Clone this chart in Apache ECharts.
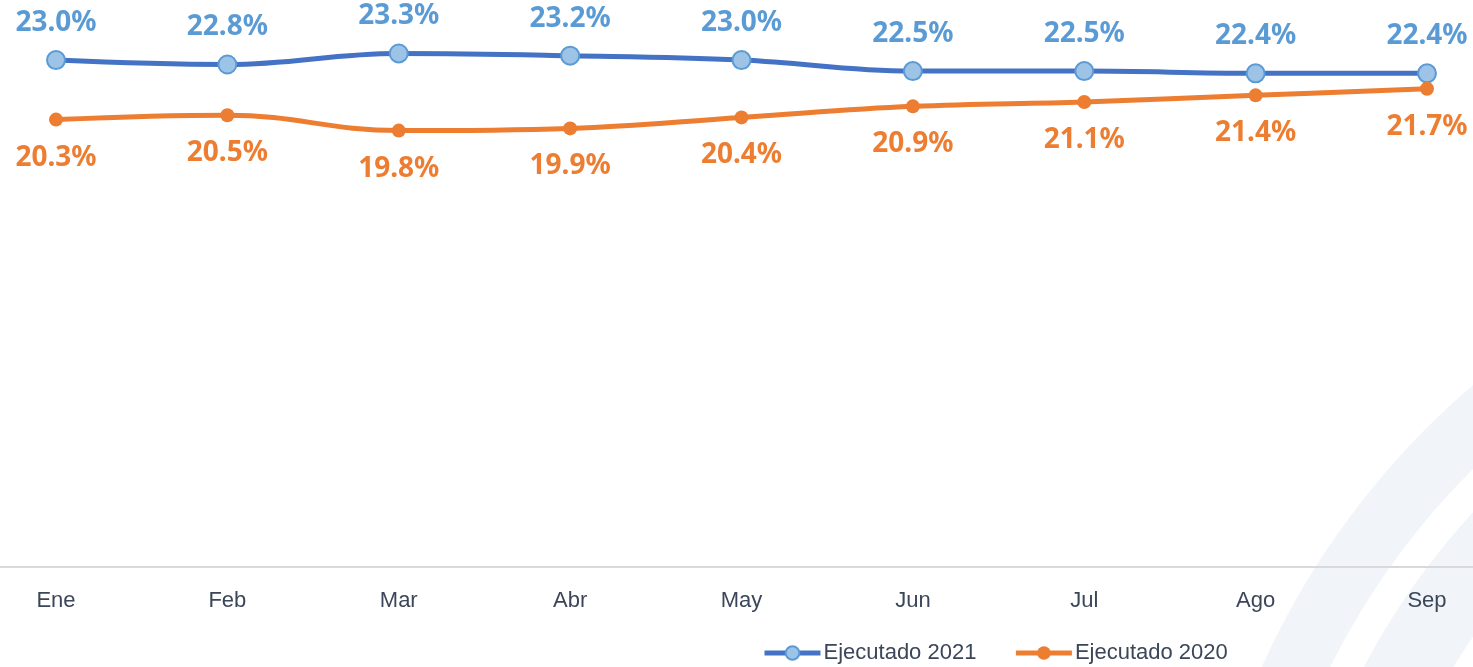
<!DOCTYPE html>
<html>
<head>
<meta charset="utf-8">
<script src="https://cdn.jsdelivr.net/npm/echarts@6/dist/echarts.min.js"></script>
<style>
  html, body { margin: 0; padding: 0; background: #fff; }
  #chart { width: 1473px; height: 667px; }
</style>
</head>
<body>
<div id="chart"></div>
<script>
// meses y porcentajes ejecutados
const months = ['Ene', 'Feb', 'Mar', 'Abr', 'May', 'Jun', 'Jul', 'Ago', 'Sep'];
const exec2021 = [23.0, 22.8, 23.3, 23.2, 23.0, 22.5, 22.5, 22.4, 22.4];
const exec2020 = [20.3, 20.5, 19.8, 19.9, 20.4, 20.9, 21.1, 21.4, 21.7];

const labelFont = '"Noto Sans", "Open Sans", sans-serif';
const axisFont = '"Liberation Sans", Arial, sans-serif';

let chart = echarts.init(document.getElementById('chart'));

const pct = p => p.value.toFixed(1) + '%';

const option = {
  backgroundColor: '#fff',
  animation: false,
  grid: { left: 56, right: 46, top: 16, bottom: 100 },
  // arcos decorativos del fondo + linea del eje a todo lo ancho
  graphic: [
    {
      type: 'ring', z: -10, silent: true,
      shape: { cx: 2000, cy: 1000, r: 810, r0: 748 },
      style: { fill: '#f1f4f9' }
    },
    {
      type: 'ring', z: -10, silent: true,
      shape: { cx: 2000, cy: 1000, r: 718, r0: 640 },
      style: { fill: '#f1f4f9' }
    },
    {
      type: 'line', z: 1, silent: true,
      shape: { x1: 0, y1: 567, x2: 1473, y2: 567 },
      style: { stroke: '#d9d9d9', lineWidth: 2 }
    }
  ],
  legend: {
    left: 757,
    bottom: -2,
    itemWidth: 56,
    itemHeight: 17,
    itemGap: 37,
    lineStyle: { width: 5 },
    textStyle: { color: '#3b4658', fontSize: 22, fontFamily: axisFont, padding: [0, 0, 0, -2] }
  },
  xAxis: {
    type: 'category',
    data: months,
    boundaryGap: false,
    axisLine: { show: false },
    axisTick: { show: false },
    axisLabel: { color: '#3b4658', fontSize: 22, fontFamily: axisFont, margin: 23 }
  },
  yAxis: {
    type: 'value',
    min: 0,
    max: 25,
    show: false,
    splitLine: { show: false }
  },
  series: [
    {
      name: 'Ejecutado 2021',
      type: 'line',
      data: exec2021,
      smooth: 0.4,
      symbol: 'circle',
      symbolSize: 18,
      lineStyle: { color: '#4472c4', width: 5 },
      itemStyle: { color: '#9dc3e6', borderColor: '#5b9bd5', borderWidth: 2 },
      label: {
        show: true,
        position: 'top',
        distance: 13,
        color: '#5b9bd5',
        fontSize: 28,
        fontWeight: 'bold',
        fontFamily: labelFont,
        formatter: pct
      }
    },
    {
      name: 'Ejecutado 2020',
      type: 'line',
      data: exec2020,
      smooth: 0.4,
      symbol: 'circle',
      symbolSize: 14,
      lineStyle: { color: '#ed7d31', width: 5 },
      itemStyle: { color: '#ed7d31' },
      label: {
        show: true,
        position: 'bottom',
        distance: 17,
        color: '#ed7d31',
        fontSize: 28,
        fontWeight: 'bold',
        fontFamily: labelFont,
        formatter: pct
      }
    }
  ]
};

chart.setOption(option, true);
</script>
</body>
</html>
